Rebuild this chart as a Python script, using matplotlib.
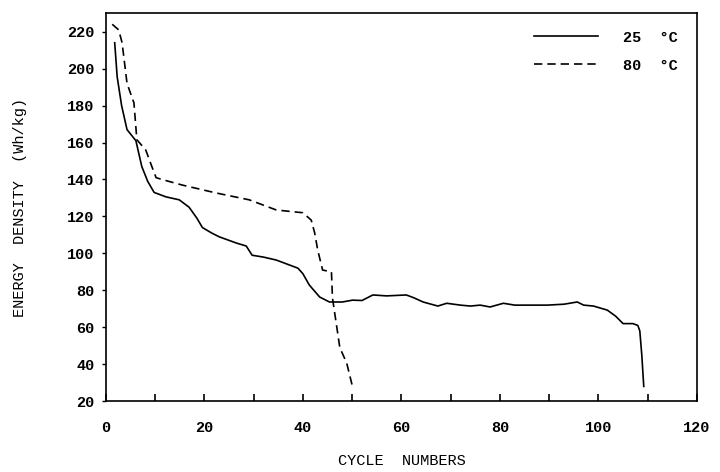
import matplotlib
matplotlib.use('Agg')
from matplotlib import pyplot as plt
from matplotlib.ticker import MultipleLocator

# 25 C curve (cycle, energy density)
cycles_25 = [1.8, 2.3, 3.2, 4.3, 6.1, 7.3, 8.5, 9.8, 12.2, 14.9, 16.9, 18.5, 19.6, 21.5, 23,
             26.5, 28.5, 29.7, 32, 34.6, 37.3, 39, 40, 41.3, 43.4, 45.4, 48, 50.1, 52,
             54.2, 57, 61, 62.5, 64.4, 67.4, 69.2, 72, 74, 76, 78, 80.7, 83, 85.5,
             89.6, 93, 95.7, 97, 99, 101.8, 103.5, 105, 107, 108, 108.4, 108.8, 109.2]
energy_25 = [214, 195.6, 180, 167, 161, 147, 139, 133, 130.6, 129, 125, 119, 114, 111, 109,
             105.6, 104, 99, 98, 96.4, 93.7, 92, 89, 82.9, 76.4, 73.7, 73.7, 74.7, 74.5,
             77.5, 77, 77.5, 76, 73.7, 71.5, 73, 72, 71.5, 72, 71, 73, 72, 72,
             72, 72.5, 73.7, 72, 71.5, 69.3, 66, 62, 62, 61, 58, 45, 28]

# 80 C curve
cycles_80 = [1.3, 2.6, 3.3, 4.3, 5.7, 6.3, 8.1, 9.2, 10.2, 11.4, 15.5, 22.4, 29.1, 34.6,
             40, 41.7, 42.4, 43, 44, 45.8, 46, 47.5, 48.9, 50.1]
energy_80 = [224, 221, 214, 192, 181.5, 161.5, 156, 148, 141, 140, 137, 132.7, 129, 123.5,
             122, 118, 111, 102, 91, 90, 76, 49, 40.6, 27.6]

labels = ['25  °C', '80  °C']

plt.rcParams['font.family'] = ['Liberation Mono', 'DejaVu Sans Mono']
plt.rcParams['font.weight'] = 'bold'

fig = plt.figure(figsize=(7.2, 4.72), dpi=100)
ax = fig.add_axes([0.147, 0.150, 0.821, 0.822])

ax.plot(cycles_25, energy_25, color='black', lw=1.2, label=labels[0])
ax.plot(cycles_80, energy_80, color='black', lw=1.2, linestyle=(0, (5, 3)), label=labels[1])

ax.set_xlim(0, 120)
ax.set_ylim(20, 230)
ax.xaxis.set_major_locator(MultipleLocator(20))
ax.xaxis.set_minor_locator(MultipleLocator(10))
ax.yaxis.set_major_locator(MultipleLocator(20))
ax.tick_params(axis='x', which='both', direction='in', length=5, width=1.2, labelsize=11, pad=14)
ax.tick_params(axis='y', direction='out', length=3, width=1.0, labelsize=11, pad=5)
for s in ax.spines.values():
    s.set_linewidth(1.2)

ax.set_xlabel('CYCLE  NUMBERS', fontsize=11, labelpad=14)
ax.set_ylabel('ENERGY  DENSITY  (Wh/kg)', fontsize=11, labelpad=29)

ax.legend(loc='upper right', bbox_to_anchor=(0.99, 0.99), frameon=False, fontsize=11,
          handlelength=4.2, handletextpad=1.6, labelspacing=0.9)

plt.savefig('out.png', dpi=100)
